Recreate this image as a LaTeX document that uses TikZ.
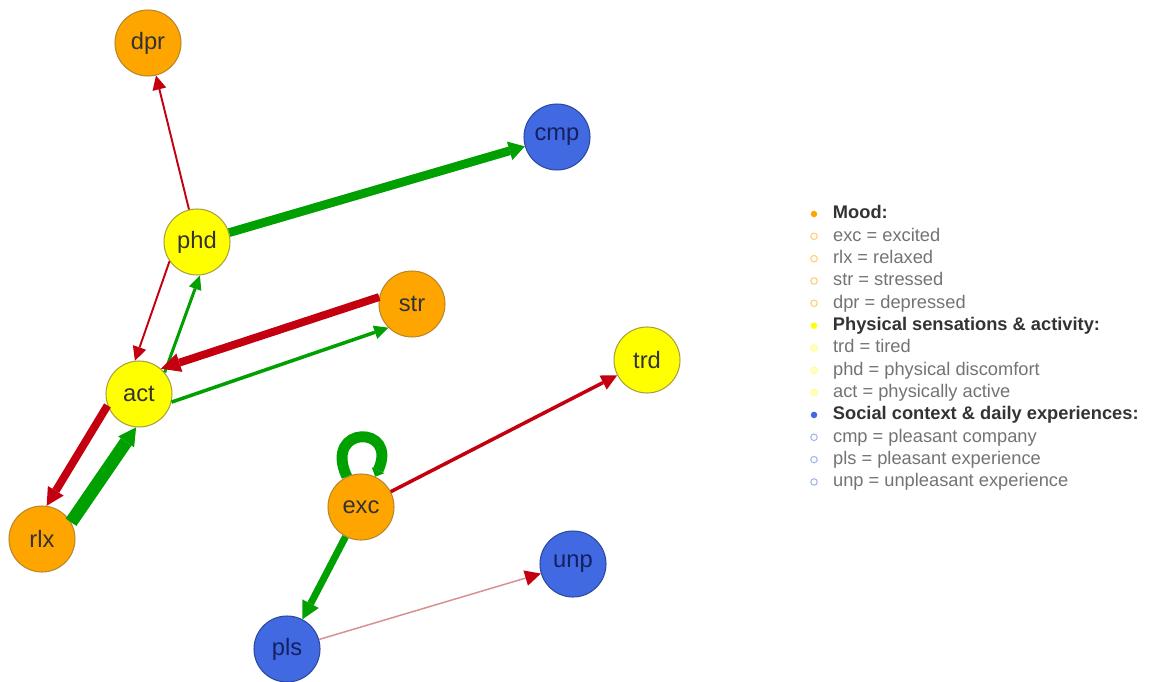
\documentclass[tikz,border=0pt]{standalone}
\usepackage{fontspec}
\setmainfont{Liberation Sans}
\usetikzlibrary{arrows.meta,positioning}

\definecolor{moodfill}{HTML}{FFA500}
\definecolor{mooddraw}{HTML}{B8862B}
\definecolor{physfill}{HTML}{FFFF00}
\definecolor{physdraw}{HTML}{A8A040}
\definecolor{socfill}{HTML}{4169E1}
\definecolor{socdraw}{HTML}{2B4A9E}
\definecolor{soctext}{HTML}{142060}
\definecolor{edgered}{HTML}{C40010}
\definecolor{edgegreen}{HTML}{00A000}
\definecolor{edgepale}{HTML}{D89090}

\tikzset{
  varnode/.style={circle, minimum size=1.32cm, inner sep=0pt, line width=0.6pt,
    font=\fontsize{13.5}{16}\selectfont},
  moodvar/.style={varnode, fill=moodfill, draw=mooddraw, text=black!80},
  physvar/.style={varnode, fill=physfill, draw=physdraw, text=black!80},
  socvar/.style={varnode, fill=socfill, draw=socdraw, text=soctext},
  posedge/.style={draw=edgegreen, line width=#1},
  negedge/.style={draw=edgered, line width=#1},
  tiphead/.style 2 args={-{Triangle[length=#1,width=#2,line width=0pt]}},
  % legend
  legbase/.style={inner sep=0pt, text height=7.5pt, text depth=2pt,
    font=\fontsize{10.4}{12}\selectfont},
  leghead/.style={legbase, text=black!80, font=\fontsize{10.4}{12}\selectfont\bfseries},
  legitem/.style={legbase, text=black!55},
  dotbase/.style={circle, inner sep=0pt, minimum size=0.13cm},
  moodbul/.style={dotbase, fill=moodfill},
  physbul/.style={dotbase, fill=physfill},
  socbul/.style={dotbase, fill=socfill},
  mooditem/.style={dotbase, draw=moodfill!55, line width=0.6pt},
  physitem/.style={dotbase, fill=physfill!20, draw=physfill!45, line width=0.6pt},
  socitem/.style={dotbase, draw=socfill!50, line width=0.6pt}
}

\begin{document}
\begin{tikzpicture}[x=0.02cm, y=-0.02cm]
\useasboundingbox (0,0) rectangle (1149,682);

% variables
\node[moodvar] (dpr) at (148,43) {dpr};
\node[socvar]  (cmp) at (557,137) {cmp};
\node[physvar] (phd) at (197,242) {phd};
\node[moodvar] (str) at (412,304) {str};
\node[physvar] (trd) at (647,360) {trd};
\node[physvar] (act) at (139,394) {act};
\node[moodvar] (exc) at (361,507) {exc};
\node[moodvar] (rlx) at (42,539) {rlx};
\node[socvar]  (unp) at (573,564) {unp};
\node[socvar]  (pls) at (287,649) {pls};

% edges
\draw[negedge=1.1pt, tiphead={8pt}{8pt}] (phd) -- (dpr);
\draw[posedge=5pt, tiphead={9pt}{11pt}] (phd) -- (cmp);
\draw[negedge=1.1pt, tiphead={8pt}{8pt}] (phd.215) -- (act.97);
\draw[posedge=1.7pt, tiphead={8pt}{7.5pt}] (act.40) -- (phd.275);
\draw[negedge=4.5pt, tiphead={11pt}{11pt}] (str.168) -- (act.49);
\draw[posedge=2pt, tiphead={8pt}{8pt}] (act.346) -- (str.225);
\draw[negedge=4.5pt, tiphead={10pt}{10.5pt}] (act.200) -- (rlx.82);
\draw[posedge=7.4pt, tiphead={10pt}{11pt}] (rlx.30) -- (act.265);
\draw[posedge=6.2pt, tiphead={4pt}{8pt}] (exc.115) .. controls +(115:1.15cm) and +(65:1.15cm) .. (exc.65);
\draw[negedge=2pt, tiphead={9pt}{9pt}] (exc) -- (trd);
\draw[posedge=4pt, tiphead={10pt}{10.5pt}] (exc) -- (pls);
\draw[draw=edgepale, line width=0.85pt, -{Triangle[length=9pt,width=9pt,line width=0pt,color=edgered]}] (pls) -- (unp);

% legend
\foreach \i/\bstyle/\tstyle/\legtext in {
  0/moodbul/leghead/Mood:,
  1/mooditem/legitem/exc = excited,
  2/mooditem/legitem/rlx = relaxed,
  3/mooditem/legitem/str = stressed,
  4/mooditem/legitem/dpr = depressed,
  5/physbul/leghead/Physical sensations \& activity:,
  6/physitem/legitem/trd = tired,
  7/physitem/legitem/phd = physical discomfort,
  8/physitem/legitem/act = physically active,
  9/socbul/leghead/Social context \& daily experiences:,
  10/socitem/legitem/cmp = pleasant company,
  11/socitem/legitem/pls = pleasant experience,
  12/socitem/legitem/unp = unpleasant experience}
{
  \node[\bstyle] (bul\i) at (814,{214+22.33*\i}) {};
  \node[\tstyle, right=0.3cm of bul\i] (leg\i) {\legtext};
}
\end{tikzpicture}
\end{document}
